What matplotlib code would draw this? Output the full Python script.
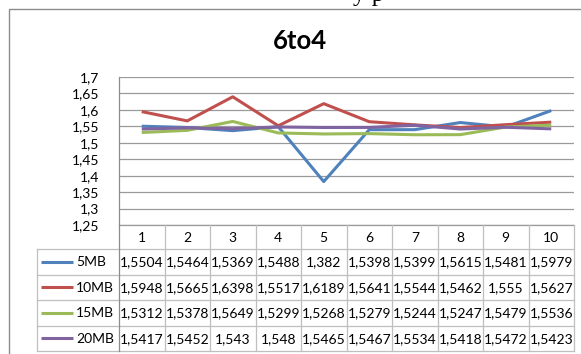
import matplotlib
matplotlib.use("Agg")
import matplotlib.pyplot as plt
from matplotlib.patches import Rectangle
from matplotlib.lines import Line2D

# ---- data ----
runs = [1, 2, 3, 4, 5, 6, 7, 8, 9, 10]
series_names = ["5MB", "10MB", "15MB", "20MB"]
mb5 = [1.5504, 1.5464, 1.5369, 1.5488, 1.382, 1.5398, 1.5399, 1.5615, 1.5481, 1.5979]
mb10 = [1.5948, 1.5665, 1.6398, 1.5517, 1.6189, 1.5641, 1.5544, 1.5462, 1.555, 1.5627]
mb15 = [1.5312, 1.5378, 1.5649, 1.5299, 1.5268, 1.5279, 1.5244, 1.5247, 1.5479, 1.5536]
mb20 = [1.5417, 1.5452, 1.543, 1.548, 1.5465, 1.5467, 1.5534, 1.5418, 1.5472, 1.5423]
y_ticks = [1.25, 1.3, 1.35, 1.4, 1.45, 1.5, 1.55, 1.6, 1.65, 1.7]
y_tick_labels = ["1,25", "1,3", "1,35", "1,4", "1,45", "1,5", "1,55", "1,6", "1,65", "1,7"]
title = "6to4"

colors = ["#4F81BD", "#C0504D", "#9BBB59", "#8064A2"]
series = [mb5, mb10, mb15, mb20]

W, H = 581, 354
fig = plt.figure(figsize=(W / 100, H / 100), dpi=100)
FONT = "Lato"

def fx(px):
    return px / W

def fy(py):
    return 1 - py / H

# outer chart border (extends beyond the crop)
fig.patches.append(Rectangle((fx(9), fy(380)), fx(620) - fx(9), fy(9) - fy(380),
                             transform=fig.transFigure, fill=False,
                             edgecolor="#8c8c8c", linewidth=1.0, zorder=0))

# cut-off document text at the very top
fig.text(fx(369), fy(0.5), "y p", ha="center", va="baseline",
         fontsize=18, family="Liberation Serif", color="black")

# ---- plot axes ----
L, R, T, B = 119, 574, 77, 225
ax = fig.add_axes([fx(L), fy(B), fx(R) - fx(L), fy(T) - fy(B)])
for s, c in zip(series, colors):
    ax.plot(runs, s, color=c, linewidth=2.2, solid_capstyle="butt", zorder=3)
ax.set_xlim(0.5, 10.5)
ax.set_ylim(1.25, 1.7)
ax.set_yticks(y_ticks)
ax.set_yticklabels(y_tick_labels, fontsize=10, family=FONT)
ax.set_xticks([])
ax.tick_params(axis="y", length=0, pad=14)
ax.yaxis.grid(True, color="#9a9a9a", linewidth=0.9)
ax.set_axisbelow(True)
for sp in ["top", "right", "bottom"]:
    ax.spines[sp].set_visible(False)
ax.spines["left"].set_color("#8c8c8c")
ax.spines["left"].set_linewidth(0.9)
ax.patch.set_alpha(0)

fig.text(fx(300), fy(41), title, ha="center", va="center",
         fontsize=18.5, fontweight="bold", family=FONT)

# ---- data table ----
TL, TB = 37, 351
HB = 249
tax = fig.add_axes([0, 0, 1, 1])
tax.set_xlim(0, W)
tax.set_ylim(H, 0)
tax.axis("off")
tax.patch.set_alpha(0)

col_w = (R - L) / len(runs)
row_edges = [HB + i * (TB - HB) / len(series) for i in range(len(series) + 1)]
grid_c = "#bfbfbf"
lw = 0.9

# horizontal lines
tax.add_line(Line2D([L, R], [B, B], color="#9a9a9a", linewidth=lw))
for y in row_edges:
    tax.add_line(Line2D([TL, R], [y, y], color=grid_c, linewidth=lw))
# vertical lines
tax.add_line(Line2D([TL, TL], [HB, TB], color=grid_c, linewidth=lw))
for i in range(len(runs) + 1):
    x = L + i * col_w
    tax.add_line(Line2D([x, x], [B, TB], color=grid_c if i > 0 else "#8c8c8c", linewidth=lw))

# header
for i, r in enumerate(runs):
    tax.text(L + (i + 0.5) * col_w, (B + HB) / 2 + 1, str(r), ha="center", va="center",
             fontsize=10, family=FONT)

# rows
for j, (name, s, c) in enumerate(zip(series_names, series, colors)):
    yc = (row_edges[j] + row_edges[j + 1]) / 2
    tax.add_line(Line2D([41, 73], [yc, yc], color=c, linewidth=2.2, solid_capstyle="butt"))
    tax.text(76, yc + 0.5, name, ha="left", va="center", fontsize=10, family=FONT)
    for i, v in enumerate(s):
        tax.text(L + (i + 0.5) * col_w, yc + 0.5, str(v).replace(".", ","),
                 ha="center", va="center", fontsize=10, family=FONT)

fig.savefig("out.png", dpi=100)
